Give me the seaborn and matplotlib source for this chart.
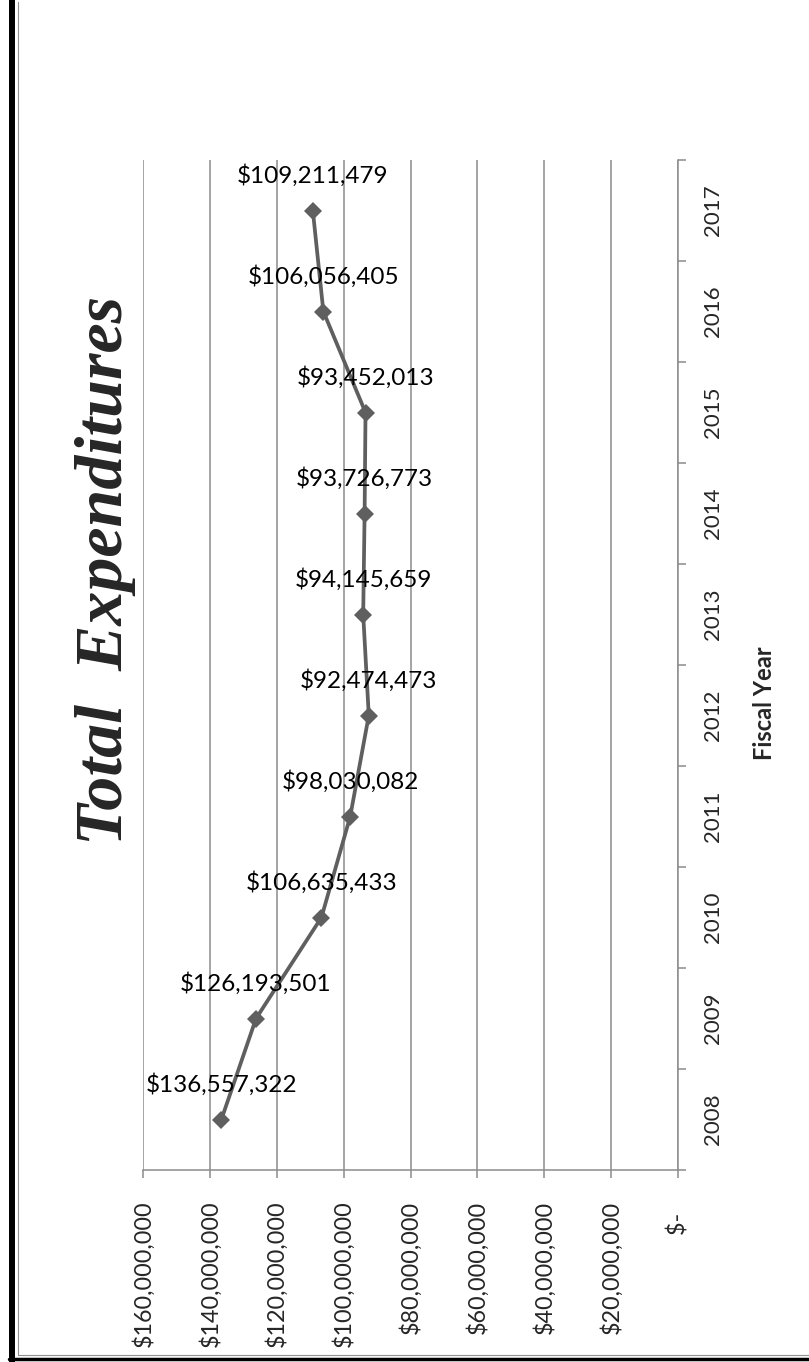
import matplotlib
matplotlib.use('Agg')
import matplotlib.pyplot as plt
import seaborn as sns
import pandas as pd
from matplotlib.lines import Line2D

# ---- data ----
years = [2008, 2009, 2010, 2011, 2012, 2013, 2014, 2015, 2016, 2017]
expenditures = [136557322, 126193501, 106635433, 98030082, 92474473,
                94145659, 93726773, 93452013, 106056405, 109211479]
value_ticks = [160000000, 140000000, 120000000, 100000000, 80000000,
               60000000, 40000000, 20000000, 0]
value_tick_labels = ["$160,000,000", "$140,000,000", "$120,000,000",
                     "$100,000,000", "$80,000,000", "$60,000,000",
                     "$40,000,000", "$20,000,000", "$-  "]
title = "Total  Expenditures"
axis_title = "Fiscal Year"

sns.set_theme(style='white')
plt.rcParams['font.family'] = ['Lato', 'DejaVu Sans']

W, H = 809, 1362
fig = plt.figure(figsize=(W / 100, H / 100), dpi=100)
fig.patch.set_facecolor('white')
ax = fig.add_axes([143 / W, (H - 1170) / H, 535 / W, 1010 / H])
ax.set_facecolor('white')

df = pd.DataFrame({'year': years, 'value': expenditures})
sns.lineplot(data=df, x='value', y='year', orient='y', ax=ax,
             color='#5f5f5f', linewidth=2.7, marker='D', markersize=9.5,
             markeredgewidth=0, markerfacecolor='#5f5f5f')

grid_c = '#8c8c8c'
ax.set_xlim(160000000, 0)
ax.set_ylim(2007.5, 2017.5)
ax.set_xticks(value_ticks)
ax.set_xticklabels(value_tick_labels, rotation=90, va='top', ha='center', fontsize=16.8)
ax.xaxis.grid(True, color=grid_c, linewidth=1.1)
ax.yaxis.grid(False)
ax.set_xlabel('')
ax.set_ylabel('')

# category boundaries as ticks, year labels at centers
ax.set_yticks([y - 0.5 for y in years] + [years[-1] + 0.5])
ax.set_yticklabels([])
ax.set_yticks(years, minor=True)
ax.set_yticklabels([str(y) for y in years], minor=True, rotation=90,
                   va='center', ha='left', fontsize=16)
ax.yaxis.set_ticks_position('right')
ax.tick_params(axis='y', which='major', right=True, left=False, length=6,
               width=1.1, color=grid_c, direction='out')
ax.tick_params(axis='y', which='minor', right=True, left=False, length=0,
               pad=18, labelright=True, labelleft=False)
ax.tick_params(axis='x', which='major', bottom=True, length=6, width=1.1,
               color=grid_c, direction='out', pad=16)

for s in ['left', 'top']:
    ax.spines[s].set_visible(False)
for s in ['right', 'bottom']:
    ax.spines[s].set_visible(True)
    ax.spines[s].set_color(grid_c)
    ax.spines[s].set_linewidth(1.1)

for v, y in zip(expenditures, years):
    ax.annotate(f"${v:,}", (v, y), xytext=(0, 25), textcoords='offset points',
                ha='center', va='center', fontsize=17.5, color='black')

fig.text(105 / W, 1 - 570 / H, title, family='Liberation Serif', style='italic',
         weight='bold', fontsize=49, rotation=90, ha='center', va='center')
fig.text(765 / W, 1 - 703 / H, axis_title, weight='bold', fontsize=17,
         rotation=90, ha='center', va='center')

# outer frame
fig.add_artist(Line2D([12 / W, 12 / W], [0, 1], transform=fig.transFigure,
                      color='black', linewidth=4.3))
fig.add_artist(Line2D([9 / W, 1], [1 - 1358.5 / H, 1 - 1358.5 / H],
                      transform=fig.transFigure, color='black', linewidth=2.5))
fig.add_artist(Line2D([17.5 / W, 17.5 / W], [1 - 1355 / H, 1 - 2 / H],
                      transform=fig.transFigure, color='#909090', linewidth=0.8))
fig.add_artist(Line2D([17.5 / W, 1], [1 - 1355 / H, 1 - 1355 / H],
                      transform=fig.transFigure, color='#909090', linewidth=0.8))

fig.savefig('out.png', dpi=100)
